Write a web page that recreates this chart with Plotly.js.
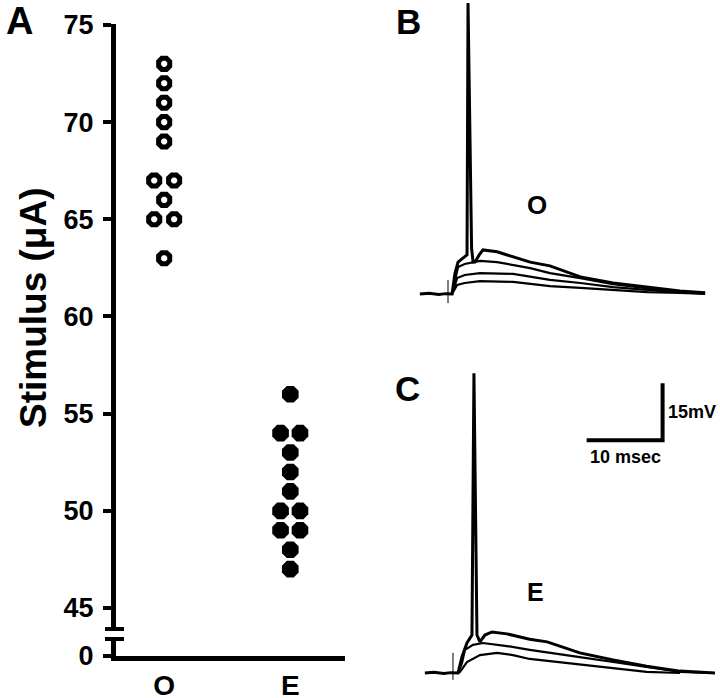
<!DOCTYPE html>
<html>
<head>
<meta charset="utf-8">
<script src="https://cdn.plot.ly/plotly-3.0.1.min.js"></script>
<style>
  html, body { margin: 0; padding: 0; background: #fff; }
  #fig { width: 720px; height: 698px; }
</style>
</head>
<body>
<div id="fig"></div>
<script>
// Panel A: threshold stimulus per cell (uA)
const groupLabels = ['O', 'E'];
const oStim = [73, 72, 71, 70, 69, 67, 67, 66, 65, 65, 63];
const eStim = [56, 54, 54, 53, 52, 51, 50, 50, 49, 49, 48, 47];
const yTicks = [45, 50, 55, 60, 65, 70, 75];

// Panel B (O): time in msec, voltage in mV above rest
const bTopT = [-3.7, -2.5, -1.2, -0.3, 0.53, 0.92, 1.32, 2.1, 2.5, 2.63, 2.85, 3.1, 3.3, 3.55, 4.1, 4.6, 6.45, 8.16, 10.8, 13.4, 17.4, 21.7, 26.2, 30.5, 33.8];
const bTopV = [0, 0.2, -0.1, 0.1, 0, 5.5, 8.4, 9.5, 10.3, 76.6, 40, 12, 8.4, 8.4, 10.3, 11.6, 11.1, 10, 8.4, 7.4, 4.5, 2.9, 1.8, 0.8, 0.3];
const b2T = [0.53, 0.92, 1.32, 2.2, 4.2, 6.45, 8.55, 10.8, 13.4, 17.4, 21.7, 26.2, 30.5, 33.8];
const b2V = [0, 3.7, 7.1, 7.9, 8.7, 8.4, 7.6, 6.8, 5.5, 4.2, 2.6, 1.6, 0.5, 0.3];
const b3T = [0.53, 1.2, 2.2, 4.2, 8.55, 13.4, 17.4, 21.7, 26.2, 30.5, 33.8];
const b3V = [0, 4.2, 5.0, 5.5, 5.3, 3.7, 2.9, 1.8, 1.1, 0.5, 0.1];
const b4T = [0.53, 1.2, 2.2, 4.2, 8.55, 13.4, 17.4, 21.7, 26.2, 30.5, 33.8];
const b4V = [0, 2.4, 2.9, 3.4, 3.2, 2.1, 1.6, 1.1, 0.5, 0.3, 0];
const bArtV = [3.7, -2.4];

// Panel C (E)
const cTopT = [-3.7, -2.5, -1.2, -0.3, 0.66, 1.18, 1.84, 2.5, 2.76, 2.95, 3.16, 3.55, 4.2, 5.13, 7.1, 10.1, 12.4, 16.7, 21.1, 25.5, 29.9, 34.5];
const cTopV = [0, 0.2, -0.1, 0.1, 0, 4.2, 7.9, 10, 78.9, 40, 10, 8.2, 10, 10.8, 10.3, 8.9, 8.2, 5.3, 3.4, 1.8, 0.5, 0];
const c2T = [0.66, 1.18, 1.58, 2.63, 3.95, 7.1, 10.1, 12.4, 16.7, 21.1, 25.5, 29.9, 33.8];
const c2V = [0, 2.6, 6.1, 7.4, 7.9, 7.1, 6.1, 5.5, 4.2, 2.9, 1.6, 0.3, 0];
const c3T = [0.66, 0.92, 1.84, 3.55, 5.8, 7.9, 10.1, 12.4, 16.7, 21.1, 25.5, 29.9];
const c3V = [0, 0.3, 2.9, 4.7, 5.3, 4.7, 3.7, 3.2, 2.4, 1.3, 0.3, 0];
const cArtV = [5.3, -1.8];

// scale bar: 10 msec x 15 mV
const barT0 = 17.6, barV0 = 61.3, barMs = 10, barMv = 15;

const W = 720, H = 698;
const px = x => x / W;
const py = y => 1 - y / H;
const boldFont = (size) => ({ family: 'Arial, Liberation Sans, sans-serif', size: size, color: '#000', weight: 'bold' });

// side-by-side offsets for repeated values
function spread(vals, center, off) {
    const seen = {};
    return vals.map(v => {
        const n = vals.filter(u => u === v).length;
        seen[v] = (seen[v] || 0) + 1;
        if (n === 1) return center;
        return center + (seen[v] === 1 ? -off : off);
    });
}

const traceO = {
    x: spread(oStim, 1, 0.079), y: oStim,
    xaxis: 'x', yaxis: 'y', mode: 'markers', type: 'scatter',
    marker: { symbol: 'octagon-open', size: 12, color: '#000', line: { color: '#000', width: 5 } },
    cliponaxis: false
};
const traceE = {
    x: spread(eStim, 2, 0.077), y: eStim,
    xaxis: 'x', yaxis: 'y', mode: 'markers', type: 'scatter',
    marker: { symbol: 'octagon', size: 18, color: '#000', line: { width: 0 } },
    cliponaxis: false
};
// empty trace so the short lower axis segment (the 0 below the break) is drawn
const traceZero = { x: [], y: [], xaxis: 'x', yaxis: 'y4', mode: 'markers', type: 'scatter', hoverinfo: 'skip' };

function ephys(t, v, ax, w) {
    return { x: t, y: v, xaxis: 'x' + ax, yaxis: 'y' + ax, mode: 'lines', type: 'scatter',
             line: { color: '#000', width: w }, cliponaxis: false };
}

const traces = [
    traceZero, traceO, traceE,
    ephys(bTopT, bTopV, 2, 3), ephys(b2T, b2V, 2, 2.2), ephys(b3T, b3V, 2, 2.2), ephys(b4T, b4V, 2, 2.2),
    ephys([0, 0], bArtV, 2, 1),
    ephys(cTopT, cTopV, 3, 3), ephys(c2T, c2V, 3, 2.2), ephys(c3T, c3V, 3, 2.2),
    ephys([0, 0], cArtV, 3, 1),
    ephys([barT0, barT0 + barMs, barT0 + barMs], [barV0, barV0, barV0 + barMv], 3, 4)
];

const hidden = { visible: false, showgrid: false, zeroline: false, fixedrange: true };

const layout = {
    width: W, height: H,
    margin: { l: 0, r: 0, t: 0, b: 0 },
    paper_bgcolor: '#fff', plot_bgcolor: 'rgba(0,0,0,0)',
    showlegend: false,
    xaxis: {
        domain: [px(116), px(345)], range: [0.618, 2.434], anchor: 'y4',
        showline: true, linewidth: 5, linecolor: '#000',
        tickvals: [1, 2], ticktext: groupLabels, ticks: '', ticklen: 0, ticklabelstandoff: 0,
        tickfont: boldFont(28), showgrid: false, zeroline: false
    },
    yaxis: {
        domain: [py(629), py(24)], range: [43.92, 75.05], anchor: 'x',
        showline: true, linewidth: 5, linecolor: '#000',
        ticks: 'outside', ticklen: 8, tickwidth: 4, tickcolor: '#000', ticklabelstandoff: 4,
        tickvals: yTicks, tickfont: boldFont(27), showgrid: false, zeroline: false
    },
    yaxis4: {
        domain: [py(656), py(639)], range: [0, 1], anchor: 'x',
        showline: true, linewidth: 5, linecolor: '#000',
        ticks: 'outside', ticklen: 8, tickwidth: 4, tickcolor: '#000', ticklabelstandoff: 4,
        tickvals: [0], tickfont: boldFont(27), showgrid: false, zeroline: false
    },
    xaxis2: Object.assign({ domain: [px(415), px(715)], range: [-4.34, 35.1], anchor: 'y2' }, hidden),
    yaxis2: Object.assign({ domain: [py(310), 1], range: [-4.21, 77.4], anchor: 'x2' }, hidden),
    xaxis3: Object.assign({ domain: [px(415), px(715)], range: [-5.0, 34.5], anchor: 'y3' }, hidden),
    yaxis3: Object.assign({ domain: [0, py(360)], range: [-6.58, 82.4], anchor: 'x3' }, hidden),
    shapes: [
        // axis break caps
        { type: 'line', xref: 'paper', yref: 'paper', x0: px(105), x1: px(124), y0: py(629), y1: py(629), line: { color: '#000', width: 4 } },
        { type: 'line', xref: 'paper', yref: 'paper', x0: px(105), x1: px(124), y0: py(639), y1: py(639), line: { color: '#000', width: 4 } }
    ],
    annotations: [
        { text: 'A', x: px(19), y: py(21), font: boldFont(38) },
        { text: 'B', x: px(408), y: py(21), font: boldFont(35) },
        { text: 'C', x: px(407), y: py(388), font: boldFont(35) },
        { text: 'O', x: px(537), y: py(205), font: boldFont(26) },
        { text: 'E', x: px(535), y: py(592), font: boldFont(25) },
        { text: '15mV', x: px(666), y: py(412), xanchor: 'left', font: boldFont(18) },
        { text: '10 msec', x: px(625), y: py(457), font: boldFont(18) },
        { text: 'Stimulus (μA)', x: px(33), y: py(308), textangle: -90, font: boldFont(37) }
    ].map(a => Object.assign({ xref: 'paper', yref: 'paper', showarrow: false, xanchor: 'center', yanchor: 'middle' }, a))
};

Plotly.newPlot('fig', traces, layout, { staticPlot: true, displayModeBar: false });
</script>
</body>
</html>
